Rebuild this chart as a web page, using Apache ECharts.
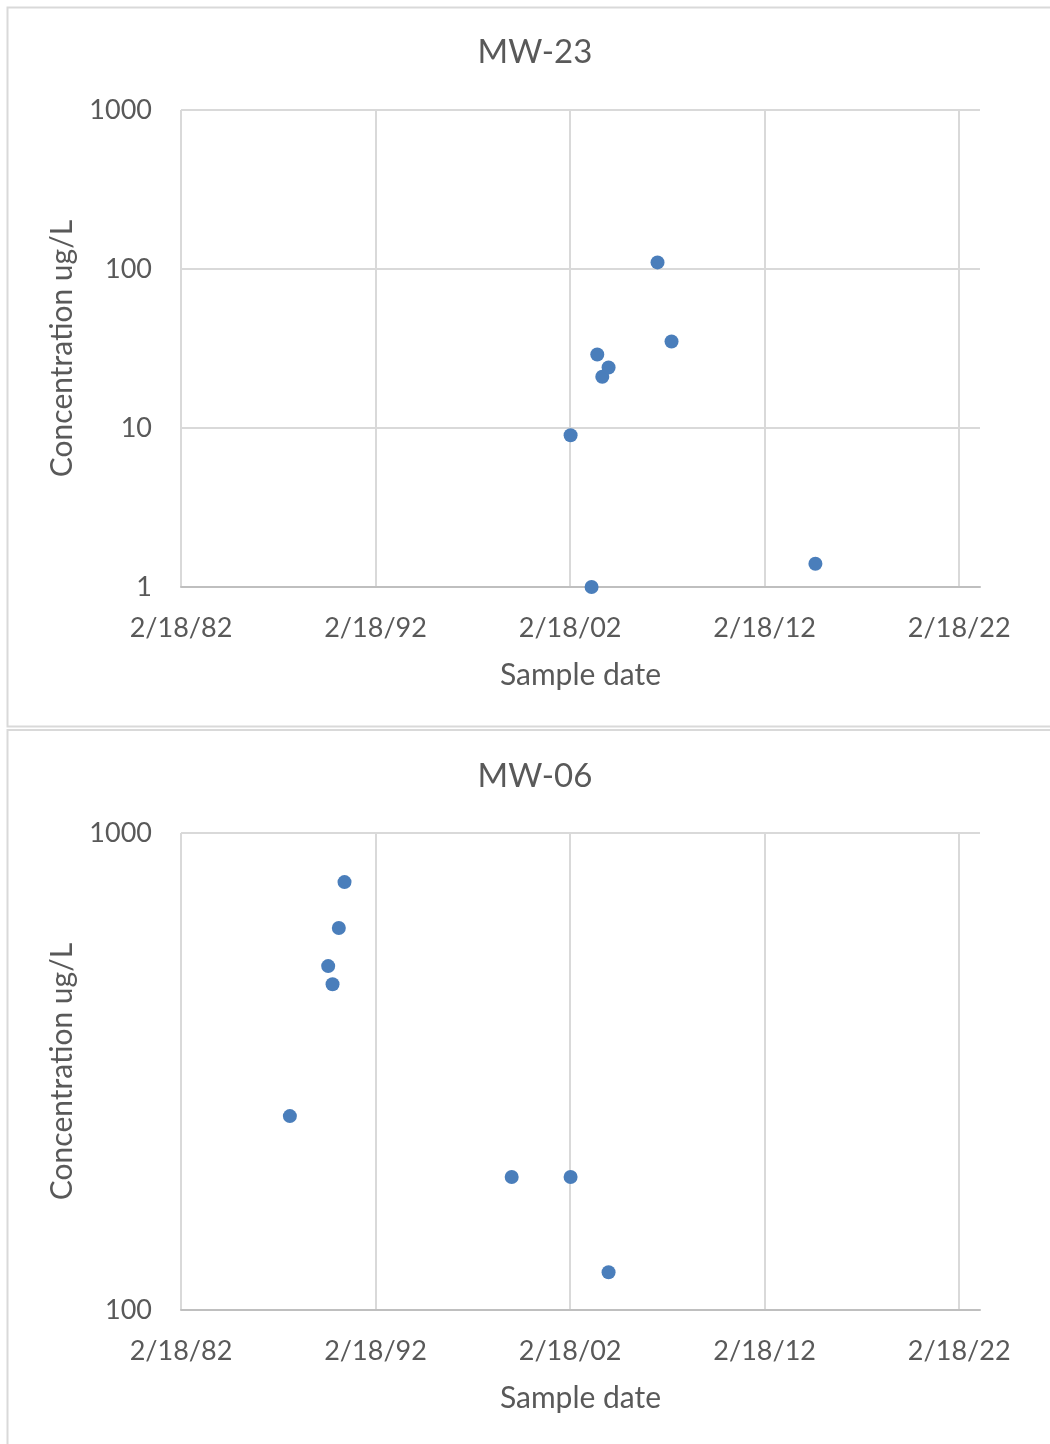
<!DOCTYPE html>
<html>
<head>
<meta charset="utf-8">
<script src="https://cdn.jsdelivr.net/npm/echarts@6/dist/echarts.min.js"></script>
<style>
html,body{margin:0;padding:0;background:#fff;}
#chart{width:1050px;height:1444px;}
</style>
</head>
<body>
<div id="chart"></div>
<script>
// ---- Data ----
const titles = ['MW-23', 'MW-06'];
const mw23Dates = ['2002-02-27', '2003-03-28', '2003-07-13', '2003-10-15', '2004-02-10', '2006-08-17', '2007-05-07', '2014-09-28'];
const mw23Values = [9, 1, 29, 21, 24, 110, 35, 1.4];
const mw06Dates = ['1987-09-24', '1989-09-12', '1989-12-03', '1990-03-31', '1990-07-16', '1999-02-17', '2002-02-27', '2004-02-10'];
const mw06Values = [255, 526, 482, 632, 789, 190, 190, 120];
const xAxisMin = 30000;      // Excel serial for 2/18/82
const xAxisMax = 45000;
const xAxisInterval = 3652.5;
const yRange1 = [1, 1000];
const yRange2 = [100, 1000];
const xAxisTitle = 'Sample date';
const yAxisTitle = 'Concentration ug/L';

// ---- helpers ----
const EXCEL_EPOCH = Date.UTC(1899, 11, 30);
function toSerial(s) {
  const p = s.split('-').map(Number);
  return (Date.UTC(p[0], p[1] - 1, p[2]) - EXCEL_EPOCH) / 86400000;
}
function fmtSerial(v) {
  if (v > xAxisMax - 200) return '';
  const d = new Date(EXCEL_EPOCH + Math.floor(v + 1e-6) * 86400000);
  const yy = String(d.getUTCFullYear() % 100).padStart(2, '0');
  return (d.getUTCMonth() + 1) + '/' + d.getUTCDate() + '/' + yy;
}
function fmtLog(v) { return String(Math.round(v)); }
function pairs(dates, vals) { return dates.map((d, i) => [toSerial(d), vals[i]]); }

const FONT = 'Lato';
const TXT = '#595959';
const GRID = '#d9d9d9';

function xAxis(gi) {
  return {
    type: 'value', gridIndex: gi, min: xAxisMin, max: xAxisMax, interval: xAxisInterval,
    name: xAxisTitle, nameLocation: 'middle', nameGap: 73,
    nameTextStyle: { color: TXT, fontFamily: FONT, fontSize: 30 },
    axisLine: { show: true, onZero: false, lineStyle: { color: '#bfbfbf', width: 2 } },
    axisTick: { show: false },
    axisLabel: { color: TXT, fontFamily: FONT, fontSize: 27, margin: 28, formatter: fmtSerial, showMaxLabel: false },
    splitLine: { show: true, showMaxLine: false, lineStyle: { color: GRID, width: 2 } }
  };
}
function yAxis(gi, r) {
  return {
    type: 'log', logBase: 10, gridIndex: gi, min: r[0], max: r[1],
    name: yAxisTitle, nameLocation: 'middle', nameGap: 104,
    nameTextStyle: { color: TXT, fontFamily: FONT, fontSize: 30 },
    axisLine: { show: false }, axisTick: { show: false },
    axisLabel: { color: TXT, fontFamily: FONT, fontSize: 27, margin: 29, formatter: fmtLog },
    splitLine: { show: true, lineStyle: { color: GRID, width: 2 } }
  };
}
function scatter(gi, data) {
  return {
    type: 'scatter', xAxisIndex: gi, yAxisIndex: gi, data: data,
    symbol: 'circle', symbolSize: 14,
    itemStyle: { color: '#4a7ebb', opacity: 1 }, z: 5
  };
}

const chart = echarts.init(document.getElementById('chart'), null, { renderer: 'canvas' });
chart.setOption({
  animation: false,
  backgroundColor: '#fff',
  graphic: [
    { type: 'rect', shape: { x: 7.5, y: 7.5, width: 1100, height: 719 }, style: { fill: 'none', stroke: '#d9d9d9', lineWidth: 2 }, z: -10 },
    { type: 'rect', shape: { x: 7.5, y: 730, width: 1100, height: 800 }, style: { fill: 'none', stroke: '#d9d9d9', lineWidth: 2 }, z: -10 }
  ],
  title: [
    { text: titles[0], left: 530, top: 31, textAlign: 'center', textStyle: { color: TXT, fontFamily: FONT, fontSize: 33, fontWeight: 'normal' } },
    { text: titles[1], left: 530, top: 755, textAlign: 'center', textStyle: { color: TXT, fontFamily: FONT, fontSize: 33, fontWeight: 'normal' } }
  ],
  grid: [
    { left: 181, top: 110, width: 799, height: 477 },
    { left: 181, top: 833, width: 799, height: 477 }
  ],
  xAxis: [xAxis(0), xAxis(1)],
  yAxis: [yAxis(0, yRange1), yAxis(1, yRange2)],
  series: [scatter(0, pairs(mw23Dates, mw23Values)), scatter(1, pairs(mw06Dates, mw06Values))]
});
</script>
</body>
</html>
